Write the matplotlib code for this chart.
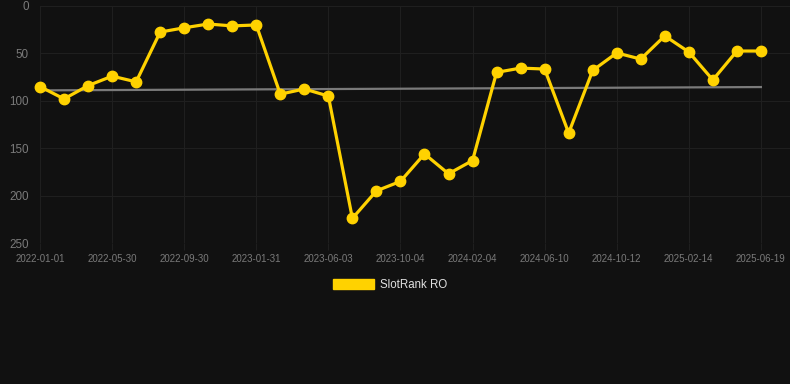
import matplotlib
matplotlib.use("Agg")
import matplotlib.pyplot as plt
from matplotlib.patches import Patch

# rank per sample (lower is better, axis is inverted)
ranks = [85, 98, 84, 74, 80, 27.5, 23, 19, 21, 20,
         93, 87.5, 95, 224, 195, 185, 156, 177, 163, 70,
         65.5, 66.5, 134, 68, 49.5, 56, 31.5, 48.5, 78, 47.5, 47.5]
tick_labels = ["2022-01-01", "2022-05-30", "2022-09-30", "2023-01-31",
               "2023-06-03", "2023-10-04", "2024-02-04", "2024-06-10",
               "2024-10-12", "2025-02-14", "2025-06-19"]
trend = [89, 85.5]  # trend line value at first and last sample
y_ticks = [0, 50, 100, 150, 200, 250]

bg = "#111111"
gold = "#FFD200"
grid_c = "#1f1f1f"

fig = plt.figure(figsize=(7.9, 3.84), dpi=100, facecolor=bg)
ax = fig.add_axes([40 / 790, 1 - 243 / 384, 750 / 790, 237 / 384], facecolor=bg)

x = list(range(len(ranks)))
ax.plot([x[0], x[-1]], trend, color="#7a7a7a", lw=1.6, zorder=2)
ax.plot(x, ranks, color=gold, lw=2.3, marker="o", markersize=7.5,
        zorder=3, clip_on=False)

ax.set_xlim(0, 750 / 24.03)
ax.set_ylim(250, 0)
ax.set_yticks(y_ticks)
ax.set_xticks(x[::3])
ax.set_xticklabels(tick_labels)

for s in ax.spines.values():
    s.set_visible(False)
ax.grid(True, color=grid_c, lw=0.8)
ax.set_axisbelow(True)
ax.tick_params(axis="x", colors=grid_c, length=5, width=0.8, pad=3,
               labelcolor="#7a7a7a", labelsize=7)
ax.tick_params(axis="y", length=0, pad=8, labelcolor="#7a7a7a", labelsize=8.4)
for t in ax.get_xticklabels() + ax.get_yticklabels():
    t.set_fontfamily("Liberation Sans")

fig.legend(handles=[Patch(facecolor=gold, edgecolor=gold, label="SlotRank RO")],
           loc="center", bbox_to_anchor=(390 / 790, 1 - 285 / 384),
           frameon=False, handlelength=3.6, handleheight=1.0, handletextpad=0.5,
           prop={"family": "Liberation Sans", "size": 8.3}, labelcolor="#e0e0e0")

fig.savefig("out.png", dpi=100, facecolor=bg)
